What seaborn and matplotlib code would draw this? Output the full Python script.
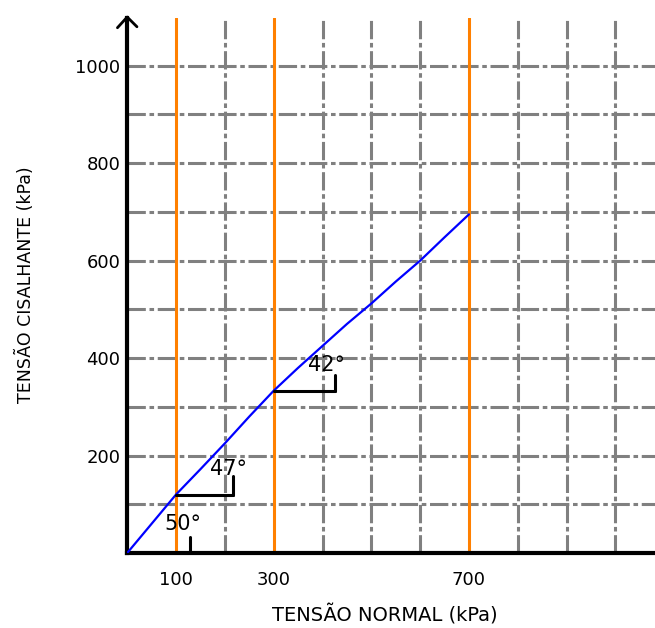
import numpy as np
import pandas as pd
import matplotlib
matplotlib.use('Agg')
import matplotlib.pyplot as plt
import seaborn as sns

# envelope (kPa)
normal = [0, 50, 100, 150, 200, 250, 300, 350, 400, 450, 500, 550, 600, 650, 700]
shear = [0, 60, 120, 172, 225, 280, 333, 380, 425, 470, 512, 557, 600, 648, 695]

stages = [100, 300, 700]          # orange verticals
xlabels = ['100', '300', '700']
yvals = [200, 400, 600, 800, 1000]

# angle markers: (text, text x, text y, stem x, stem y0, stem y1, base x0)
angles = [
    ('50°', 114, 60, 129, 0, 33, None),
    ('47°', 208, 172, 217, 120, 158, 100),
    ('42°', 409, 386, 425, 333, 365, 300),
]

sns.set_style('white')
plt.rcParams['font.family'] = ['DejaVu Sans']
plt.rcParams['text.color'] = 'black'
plt.rcParams['xtick.labelcolor'] = 'black'
plt.rcParams['ytick.labelcolor'] = 'black'

fig = plt.figure(figsize=(6.55, 6.28), dpi=100)
ax = fig.add_axes([127.2 / 655, 75 / 628, 1 - 127.2 / 655, 535 / 628])

# dash-dot grid
grid_style = dict(color='#808080', lw=2.2, ls=(0, (6, 1.2, 1.5, 1.2)), zorder=1)
for gx in range(200, 1100, 100):
    if gx not in stages:
        ax.axvline(gx, **grid_style)
for gy in range(100, 1100, 100):
    ax.axhline(gy, **grid_style)

for s in stages:
    ax.axvline(s, color='#FF8000', lw=2.2, zorder=2)

df = pd.DataFrame({'normal': normal, 'shear': shear})
sns.lineplot(data=df, x='normal', y='shear', color='#0000FF', lw=1.6, ax=ax, zorder=3)

for txt, tx, ty, sx, sy0, sy1, bx in angles:
    ax.plot([sx, sx], [sy0, sy1], color='black', lw=2.2, zorder=4)
    if bx is not None:
        ax.plot([bx, sx], [sy0, sy0], color='black', lw=2.2, zorder=4)
    ax.text(tx, ty, txt, fontsize=15, color='black', ha='center', va='center', zorder=5)

ax.set_xlim(0, 1081)
ax.set_ylim(0, 1098)
ax.set_xticks(stages)
ax.set_xticklabels(xlabels, fontsize=13, color='black')
ax.set_yticks(range(100, 1100, 100))
ax.set_yticklabels([str(v) if v in yvals else '' for v in range(100, 1100, 100)], fontsize=13, color='black')
ax.tick_params(axis='x', length=0, pad=13)
ax.tick_params(axis='y', length=4, width=2, color='#808080', pad=1)
ax.set_xlabel('')
ax.set_ylabel('')

for side in ['top', 'right']:
    ax.spines[side].set_visible(False)
for side in ['left', 'bottom']:
    ax.spines[side].set_linewidth(3)
    ax.spines[side].set_color('black')

# open arrow head at top of the y axis
ax.plot([-20, 0, 20], [1078, 1100, 1080], color='black', lw=2, clip_on=False, zorder=6)

fig.text(385 / 655, 1 - 615 / 628, 'TENSÃO NORMAL (kPa)', fontsize=14, color='black', ha='center', va='center')
fig.text(25 / 655, 1 - 285 / 628, 'TENSÃO CISALHANTE (kPa)', fontsize=12.5, color='black',
         ha='center', va='center', rotation=90)

fig.savefig('out.png', dpi=100)
